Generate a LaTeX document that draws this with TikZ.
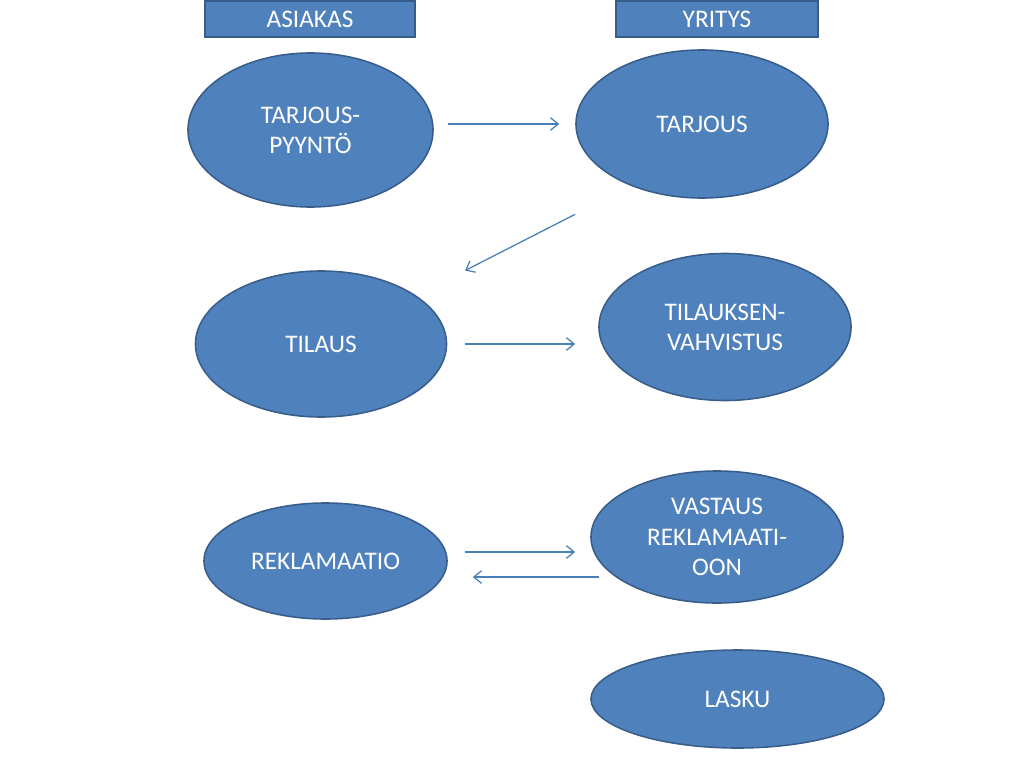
\documentclass[tikz,border=0pt]{standalone}
\usepackage{fontspec}
\setmainfont{Carlito}
\usepackage{tikz}
\usetikzlibrary{arrows,arrows.meta,positioning,shapes.geometric}
\definecolor{ppblue}{HTML}{4F81BD}
\definecolor{ppedge}{HTML}{385D8A}
\definecolor{pparrow}{HTML}{4A7EBB}
\tikzset{soikio/.style={ellipse,draw=ppedge,fill=ppblue,line width=1.1pt,text=white,align=center,inner sep=0pt,
  font=\fontsize{18}{21.5}\selectfont}}
\tikzset{otsikko/.style={rectangle,draw=ppedge,fill=ppblue,line width=1.1pt,text=white,inner sep=0pt,
  minimum height=0.9cm,font=\fontsize{18}{21.5}\selectfont}}
\tikzset{nuoli/.style={->,>={Straight Barb[length=5.5pt,width=9pt]},draw=pparrow,line width=0.9pt}}

\begin{document}
\begin{tikzpicture}[x=0.025cm,y=-0.025cm]
\useasboundingbox (0,0) rectangle (1024,768);
% \draw[help lines] (0,0) grid[step=50] (1024,768);
\node (as) [otsikko,minimum width=5.25cm] at (310,19) {ASIAKAS};
\node (yr) [otsikko,minimum width=5.05cm] at (717,19) {YRITYS};
%
\node (tp) [soikio,minimum width=6.125cm,minimum height=3.85cm] at (310.5,130) {TARJOUS-\\PYYNTÖ};
\node (ta) [soikio,minimum width=6.3cm,minimum height=3.7cm] at (702,124) {TARJOUS};
\node (ti) [soikio,minimum width=6.275cm,minimum height=3.65cm] at (321,344) {TILAUS};
\node (tv) [soikio,minimum width=6.3cm,minimum height=3.675cm] at (725,327) {TILAUKSEN-\\VAHVISTUS};
\node (re) [soikio,minimum width=6.075cm,minimum height=2.9cm] at (325.5,561) {REKLAMAATIO};
\node (va) [soikio,minimum width=6.3cm,minimum height=3.3cm] at (717,537) {VASTAUS\\REKLAMAATI-\\OON};
\node (la) [soikio,minimum width=7.325cm,minimum height=2.45cm] at (737.5,699) {LASKU};
%
\draw[nuoli,shorten <=10pt,shorten >=11.4pt] (tp.east |- ta.west) -- (ta.west);
\draw[nuoli,shorten <=44.5pt,shorten >=39pt] (ta.221.8) -- (ti.27.2);
\draw[nuoli,shorten <=12.4pt,shorten >=16.4pt] (ti.east) -- (ti.east -| tv.west);
\draw[nuoli,shorten <=12pt,shorten >=10.7pt] ([yshift=6.4pt]re.east) -- ([yshift=6.4pt]re.east -| va.west);
\draw[nuoli,<-,shorten <=17.8pt,shorten >=-6.4pt] ([yshift=-11.4pt]re.east) -- ([yshift=-11.4pt]re.east -| va.west);
\end{tikzpicture}
\end{document}
